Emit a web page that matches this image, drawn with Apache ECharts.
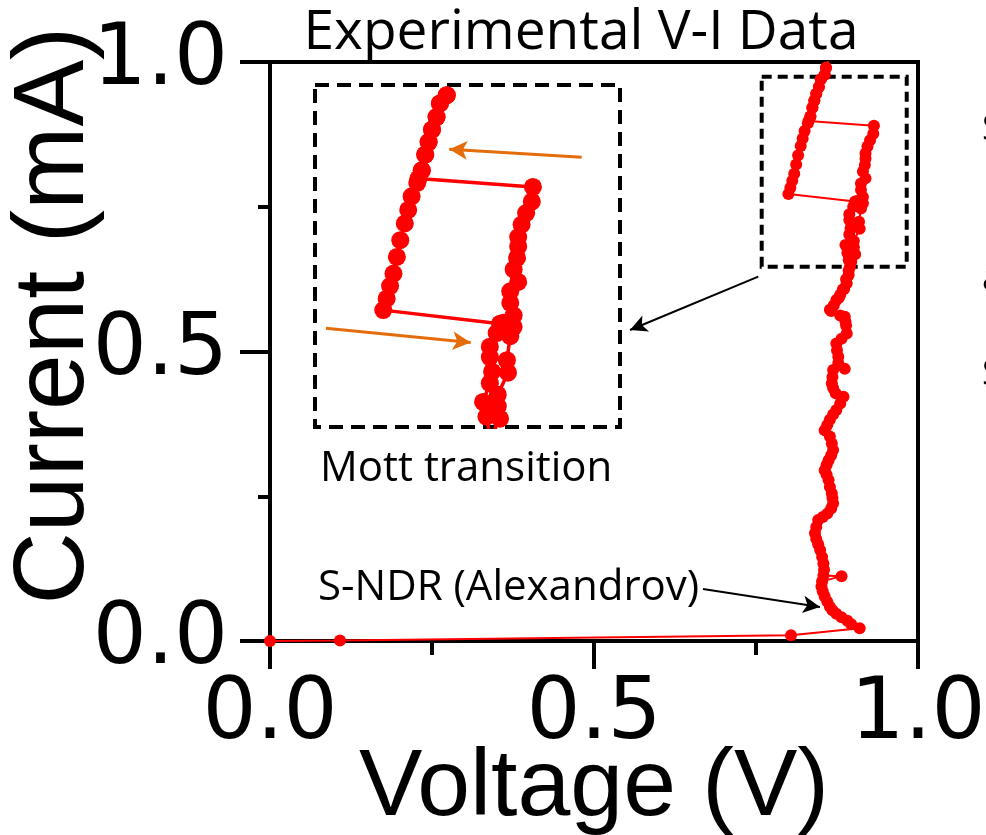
<!DOCTYPE html>
<html lang="en">
<head>
    <meta charset="UTF-8">
    <title>V-I</title>
    <style>body{margin:0;background:#fff}</style>
</head>
<body>
<div id="chart" style="width: 986px;height: 835px"></div>
<script src="https://cdn.jsdelivr.net/npm/echarts@6/dist/echarts.min.js"></script>
<script>
    // sweep up: ohmic -> S-NDR -> right (insulating) branch -> jump -> left (metallic) branch
    const upV = [0.000, 0.108, 0.804, 0.910, 0.897, 0.891, 0.882, 0.874, 0.868, 0.864, 0.860, 0.856, 0.853, 0.851, 0.852, 0.882,
        0.854, 0.855, 0.854, 0.852, 0.849, 0.846, 0.843, 0.841, 0.843, 0.846, 0.853, 0.860, 0.866, 0.869, 0.868, 0.867,
        0.864, 0.862, 0.859, 0.856, 0.859, 0.862, 0.866, 0.869, 0.867, 0.864, 0.856, 0.860, 0.864, 0.869, 0.874, 0.880,
        0.885, 0.873, 0.869, 0.867, 0.868, 0.869, 0.887, 0.877, 0.877, 0.875, 0.874, 0.882, 0.890, 0.889, 0.887, 0.864,
        0.874, 0.880, 0.886, 0.890, 0.893, 0.895, 0.893, 0.891, 0.888, 0.894, 0.896, 0.894, 0.894, 0.900, 0.906, 0.915,
        0.912, 0.912, 0.919, 0.915, 0.918, 0.919, 0.919, 0.922, 0.926, 0.931, 0.932,
        0.831, 0.834, 0.837, 0.840, 0.843, 0.847, 0.850, 0.856, 0.858, 0.862];
    const upI = [0.000, 0.001, 0.010, 0.022, 0.029, 0.035, 0.041, 0.047, 0.053, 0.059, 0.068, 0.077, 0.086, 0.094, 0.103, 0.112,
        0.113, 0.123, 0.134, 0.145, 0.157, 0.167, 0.176, 0.186, 0.197, 0.209, 0.214, 0.220, 0.229, 0.238, 0.247, 0.255,
        0.266, 0.278, 0.287, 0.295, 0.304, 0.312, 0.321, 0.330, 0.341, 0.353, 0.364, 0.373, 0.382, 0.391, 0.399, 0.410,
        0.422, 0.428, 0.437, 0.445, 0.456, 0.468, 0.470, 0.480, 0.491, 0.502, 0.514, 0.522, 0.531, 0.545, 0.560, 0.572,
        0.589, 0.598, 0.608, 0.618, 0.632, 0.646, 0.658, 0.670, 0.684, 0.702, 0.713, 0.727, 0.737, 0.750, 0.760, 0.767,
        0.779, 0.790, 0.799, 0.811, 0.822, 0.833, 0.842, 0.854, 0.865, 0.876, 0.890,
        0.898, 0.906, 0.921, 0.933, 0.945, 0.957, 0.970, 0.978, 0.990, 1.004];
    // sweep down: left branch down -> jump back -> right branch
    const downV = [0.862, 0.858, 0.856, 0.850, 0.847, 0.843, 0.840, 0.837, 0.834, 0.830, 0.825, 0.822, 0.819, 0.815, 0.812,
        0.809, 0.806, 0.803, 0.800,
        0.903, 0.915, 0.912, 0.909, 0.910, 0.901, 0.901, 0.903, 0.897, 0.893, 0.889, 0.884, 0.878, 0.870, 0.866, 0.880, 0.888];
    const downI = [1.004, 0.990, 0.978, 0.970, 0.957, 0.945, 0.933, 0.921, 0.906, 0.894, 0.881, 0.868, 0.855, 0.839, 0.823,
        0.807, 0.795, 0.783, 0.772,
        0.759, 0.756, 0.747, 0.724, 0.712, 0.691, 0.680, 0.668, 0.655, 0.640, 0.625, 0.607, 0.593, 0.580, 0.570, 0.562, 0.552];

    const xTicks = [0, 0.5, 1.0];
    const yTicks = [0, 0.5, 1.0];

    // annotations, in data units of the main plot / the inset
    const zoomBox = [[0.7588, 0.9746], [0.9826, 0.6465]];
    const blackArrows = [[[0.7535, 0.6292], [0.5556, 0.5372]], [[0.6682, 0.0898], [0.8488, 0.0587]]];
    const orangeArrows = [[[0.9750, 0.9185], [0.8582, 0.9261]], [[0.7495, 0.7547], [0.8771, 0.7409]]];
    const insetRange = {x: [0.7398, 1.0088], y: [0.660, 0.981]};

    const pairs = (xs, ys) => xs.map((x, i) => [x, ys[i]]);
    const up = pairs(upV, upI);
    const down = pairs(downV, downI);

    const chart = echarts.init(document.getElementById('chart'));
    const RED = '#ff0000';
    const tickFont = {fontFamily: 'DejaVu Sans', fontSize: 85, color: '#000'};
    const nameFont = {fontFamily: 'Liberation Sans', fontSize: 95, color: '#000'};
    const annFont = 'Open Sans';

    const mainSeries = (data, extra) => Object.assign({
        type: 'line', xAxisIndex: 0, yAxisIndex: 0, data: data,
        symbol: 'circle', symbolSize: 12, showAllSymbol: true,
        itemStyle: {color: RED}, lineStyle: {color: RED, width: 2},
        clip: true, z: 3
    }, extra || {});
    const insetSeries = (data, extra) => Object.assign({
        type: 'line', xAxisIndex: 1, yAxisIndex: 1, data: data,
        symbol: 'circle', symbolSize: 18, showAllSymbol: true,
        itemStyle: {color: RED}, lineStyle: {color: RED, width: 3.5},
        clip: true, z: 3
    }, extra || {});

    chart.setOption({
        animation: false,
        backgroundColor: '#fff',
        grid: [
            {left: 270, top: 62, width: 648, height: 579, show: true, borderColor: '#000', borderWidth: 4,
                containLabel: false, outerBoundsMode: 'none'},
            {left: 315, top: 92, width: 305, height: 335, containLabel: false, outerBoundsMode: 'none'}
        ],
        xAxis: [
            {
                type: 'value', gridIndex: 0, min: 0, max: 1, interval: 0.5,
                axisLine: {show: true, lineStyle: {color: '#000', width: 4}},
                axisTick: {show: true, length: 28, lineStyle: {color: '#000', width: 4}},
                minorTick: {show: true, splitNumber: 2, length: 14, lineStyle: {color: '#000', width: 4}},
                splitLine: {show: false},
                axisLabel: Object.assign({margin: 32, formatter: v => xTicks.includes(v) ? v.toFixed(1) : ''}, tickFont),
                name: 'Voltage (V)', nameLocation: 'middle', nameGap: 100, nameMoveOverlap: false,
                nameTextStyle: nameFont
            },
            {type: 'value', gridIndex: 1, min: insetRange.x[0], max: insetRange.x[1], show: false}
        ],
        yAxis: [
            {
                type: 'value', gridIndex: 0, min: 0, max: 1, interval: 0.5,
                axisLine: {show: true, lineStyle: {color: '#000', width: 4}},
                axisTick: {show: true, length: 30, lineStyle: {color: '#000', width: 4}},
                minorTick: {show: true, splitNumber: 2, length: 12, lineStyle: {color: '#000', width: 4}},
                splitLine: {show: false},
                axisLabel: Object.assign({margin: 42, formatter: v => yTicks.includes(v) ? v.toFixed(1) : ''}, tickFont),
                name: 'Current (mA)', nameLocation: 'middle', nameGap: 165, nameMoveOverlap: false,
                nameTextStyle: Object.assign({padding: [0, 0, 0, 72]}, nameFont, {fontSize: 100})
            },
            {type: 'value', gridIndex: 1, min: insetRange.y[0], max: insetRange.y[1], show: false}
        ],
        series: [
            mainSeries(up, {
                markArea: {
                    silent: true,
                    itemStyle: {color: 'rgba(0,0,0,0)', borderColor: '#000', borderWidth: 4, borderType: [10, 6]},
                    data: [[{coord: zoomBox[0]}, {coord: zoomBox[1]}]]
                },
                markLine: {
                    silent: true, symbol: ['none', 'arrow'], symbolSize: [13, 17],
                    label: {show: false},
                    lineStyle: {color: '#000', width: 2, type: 'solid'},
                    data: blackArrows.map(a => [{coord: a[0]}, {coord: a[1]}])
                }
            }),
            mainSeries(down),
            insetSeries(up, {
                markLine: {
                    silent: true, symbol: ['none', 'arrow'], symbolSize: [14, 18],
                    label: {show: false},
                    lineStyle: {color: '#e46c0a', width: 3, type: 'solid'},
                    data: orangeArrows.map(a => [{coord: a[0]}, {coord: a[1]}])
                }
            }),
            insetSeries(down)
        ],
        graphic: [
            {
                type: 'rect', shape: {x: 315, y: 85, width: 305, height: 342}, z: 1,
                style: {fill: 'none', stroke: '#000', lineWidth: 4, lineDash: [14, 8]}
            },
            {
                type: 'text', x: 581, y: 33,
                style: {text: 'Experimental V-I Data', font: '55px ' + annFont, fill: '#000', align: 'center', verticalAlign: 'middle'}
            },
            {
                type: 'text', x: 320, y: 469,
                style: {text: 'Mott transition', font: '42px ' + annFont, fill: '#000', align: 'left', verticalAlign: 'middle'}
            },
            {
                type: 'text', x: 318, y: 588,
                style: {text: 'S-NDR (Alexandrov)', font: '42px ' + annFont, fill: '#000', align: 'left', verticalAlign: 'middle'}
            },
            {type: 'text', x: 982, y: 130, style: {text: 'S', font: '36px ' + annFont, fill: '#000', verticalAlign: 'middle'}},
            {type: 'text', x: 982, y: 280, style: {text: 'a', font: '36px ' + annFont, fill: '#000', verticalAlign: 'middle'}},
            {type: 'text', x: 982, y: 375, style: {text: 'S', font: '36px ' + annFont, fill: '#000', verticalAlign: 'middle'}}
        ]
    });
</script>
</body>
</html>
